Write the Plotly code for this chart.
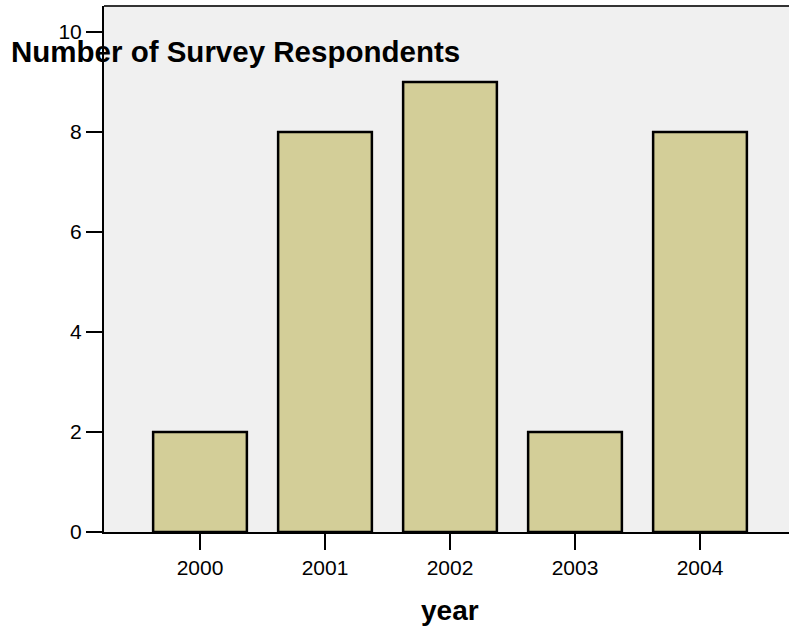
import plotly.graph_objects as go

years = ["2000", "2001", "2002", "2003", "2004"]
counts = [2, 8, 9, 2, 8]
y_ticks = [0, 2, 4, 6, 8, 10]

FONT = "Arial, Liberation Sans, Helvetica, sans-serif"
W, H = 789, 632
L, R, T, B = 104, 0, 6, 100
PW = W - L - R

fig = go.Figure()
fig.add_trace(go.Bar(
    x=years, y=counts, width=0.75,
    marker=dict(color="#d3ce98", line=dict(color="black", width=2.5)),
    showlegend=False,
))

fig.update_layout(
    width=W, height=H,
    margin=dict(l=L, r=R, t=T, b=B),
    paper_bgcolor="white",
    plot_bgcolor="#f0f0f0",
    font=dict(family=FONT, color="black"),
    title=dict(
        text="<b>Number of Survey Respondents</b>",
        xref="container", yref="container",
        x=11 / W, y=1 - 52 / H, xanchor="left", yanchor="middle",
        font=dict(size=29.5, family=FONT, color="black"),
    ),
    bargap=0.25,
)

fig.update_xaxes(
    type="category",
    range=[-0.768, 4.712],
    showline=True, linecolor="black", linewidth=2,
    ticks="outside", ticklen=16, tickwidth=2, tickcolor="black",
    tickfont=dict(size=21, family=FONT),
    showgrid=False, zeroline=False,
)
fig.update_yaxes(
    range=[0, 10.52],
    tickvals=y_ticks, ticktext=[str(v) for v in y_ticks],
    showline=True, linecolor="black", linewidth=2,
    ticks="outside", ticklen=16, tickwidth=2, tickcolor="black",
    tickfont=dict(size=21, family=FONT),
    showgrid=False, zeroline=False,
)

fig.add_shape(type="line", xref="paper", yref="paper", x0=0, x1=1, y0=1, y1=1,
              line=dict(color="#333333", width=2))

fig.add_annotation(
    text="<b>year</b>", xref="paper", yref="paper",
    x=(450 - L) / PW, y=-(610 - 532) / (H - T - B),
    xanchor="center", yanchor="middle", showarrow=False,
    font=dict(size=28, family=FONT, color="black"),
)

fig.write_html(
    "out.html",
    config={"displayModeBar": False},
    post_script="document.body.style.margin='0';document.body.style.overflow='hidden';",
)
